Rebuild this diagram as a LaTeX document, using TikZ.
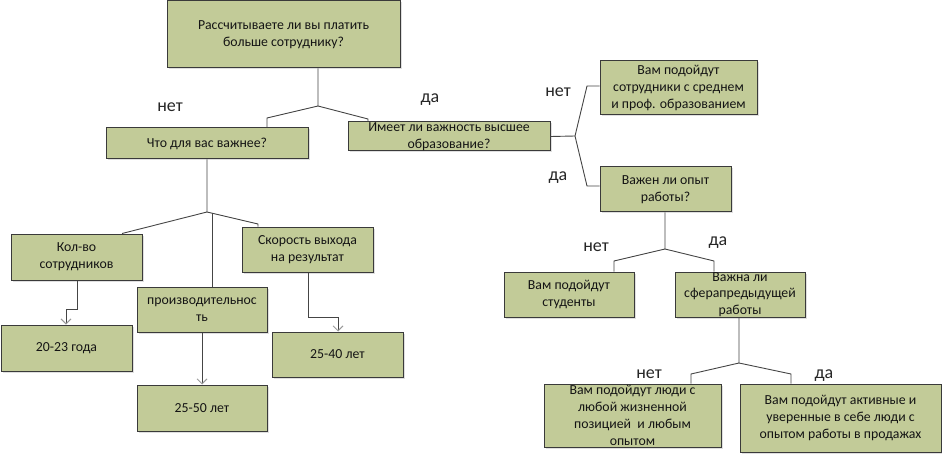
\documentclass[tikz,border=0pt]{standalone}
\usepackage{fontspec}
\setmainfont{Carlito}
\usetikzlibrary{arrows.meta,shadows}
\definecolor{boxfill}{HTML}{C2CB98}
\definecolor{boxline}{HTML}{3A3A3A}
\definecolor{conn}{HTML}{454545}
\definecolor{txt}{HTML}{141414}
\tikzset{
  box/.style={draw=boxline, line width=1pt, fill=boxfill, align=center, inner sep=0pt,
    text=txt, font=\fontsize{13.8}{16.8}\selectfont,
    drop shadow={shadow xshift=1.5pt, shadow yshift=-1.5pt, opacity=0.25, fill=gray}},
  wire/.style={draw=conn, line width=0.9pt},
  arr/.style={wire, -{Straight Barb[length=5pt,width=10pt,color=gray!80,line width=0.9pt]}},
  lbl/.style={font=\fontsize{18}{18}\selectfont, text=black!85, inner sep=0pt}
}
\begin{document}
\begin{tikzpicture}[x=1pt,y=-1pt]
\useasboundingbox (0,0) rectangle (942,457);
% boxes
\node[box, minimum width=233pt, minimum height=67pt] (top) at (283.5,34.5) {Рассчитываете ли вы платить\\больше сотруднику?};
\node[box, minimum width=202pt, minimum height=31pt] (what) at (207,143.5) {Что для вас важнее?};
\node[box, minimum width=202pt, minimum height=29pt] (edu) at (449,136.5) {Имеет ли важность высшее\\образование?};
\node[box, minimum width=157pt, minimum height=54pt] (mid) at (678.5,88) {Вам подойдут\\сотрудники с среднем\\и проф. образованием};
\node[box, minimum width=131pt, minimum height=45pt] (exp) at (665.5,189.5) {Важен ли опыт\\работы?};
\node[box, minimum width=131pt, minimum height=46pt] (cnt) at (76.5,257) {Кол-во\\сотрудников};
\node[box, minimum width=130pt, minimum height=45pt] (prod) at (202,309.5) {производительнос\\ть};
\node[box, minimum width=131pt, minimum height=45pt] (speed) at (307.5,249.5) {Скорость выхода\\на результат};
\node[box, minimum width=131pt, minimum height=46pt] (a2023) at (66.5,348) {20-23 года};
\node[box, minimum width=130pt, minimum height=46pt] (a2550) at (202,408) {25-50 лет};
\node[box, minimum width=131pt, minimum height=45pt] (a2540) at (337.5,354.5) {25-40 лет};
\node[box, minimum width=130pt, minimum height=45pt] (stud) at (569,294.5) {Вам подойдут\\студенты};
\node[box, minimum width=130pt, minimum height=45pt] (sphere) at (740,294.5) {Важна ли\\сферапредыдущей\\работы};
\node[box, minimum width=177pt, minimum height=63pt] (any) at (632.5,415.5) {Вам подойдут люди с\\любой жизненной\\позицией \ и любым\\опытом};
\node[box, minimum width=201pt, minimum height=68pt] (act) at (840.5,418) {Вам подойдут активные и\\уверенные в себе люди с\\опытом работы в продажах};
% junctions
\coordinate (j1) at (318,106);
\coordinate (j2) at (207,212);
\coordinate (j3) at (665,249);
\coordinate (j4) at (739,363);
\coordinate (b1) at (575,136);
% connectors
\draw[wire] (top.south -| j1) -- (j1) -- (267,118) -- (what.north -| 267,0);
\draw[wire] (j1) -- (368,119) -- (edu.north -| 368,0);
\draw[wire] (what.south -| j2) -- (j2) -- (cnt.north -| 122,0);
\draw[wire] (j2) -- (258,224) -- (speed.north -| 258,0);
\draw[wire] (212,213) -- (prod.north -| 212,0);
\draw[arr] (cnt.south -| 77,0) -- (77,309) -- (66,309) -- (a2023.north -| 66,0);
\draw[arr] (prod.south) -- (a2550.north);
\draw[arr] (speed.south -| 308,0) -- (308,317) -- (338,317) -- (a2540.north -| 338,0);
\draw[wire] (edu.east) -- (b1);
\draw[wire] (b1) -- (587,86) -- (mid.west |- 0,86);
\draw[wire] (b1) -- (587,186) -- (exp.west |- 0,186);
\draw[wire] (exp.south -| j3) -- (j3) -- (614,261) -- (stud.north -| 614,0);
\draw[wire] (j3) -- (714,261) -- (sphere.north -| 714,0);
\draw[wire] (sphere.south -| j4) -- (j4) -- (691,374) -- (any.north -| 691,0);
\draw[wire] (j4) -- (791,374) -- (act.north -| 791,0);
% labels
\node[lbl] (l1) at (170,107) {нет};
\node[lbl] (l2) at (430,100) {да};
\node[lbl] (l3) at (558,92) {нет};
\node[lbl] (l4) at (558,178) {да};
\node[lbl] (l5) at (596,247) {нет};
\node[lbl] (l6) at (718,243) {да};
\node[lbl] (l7) at (649,374) {нет};
\node[lbl] (l8) at (824,376) {да};
\end{tikzpicture}
\end{document}
